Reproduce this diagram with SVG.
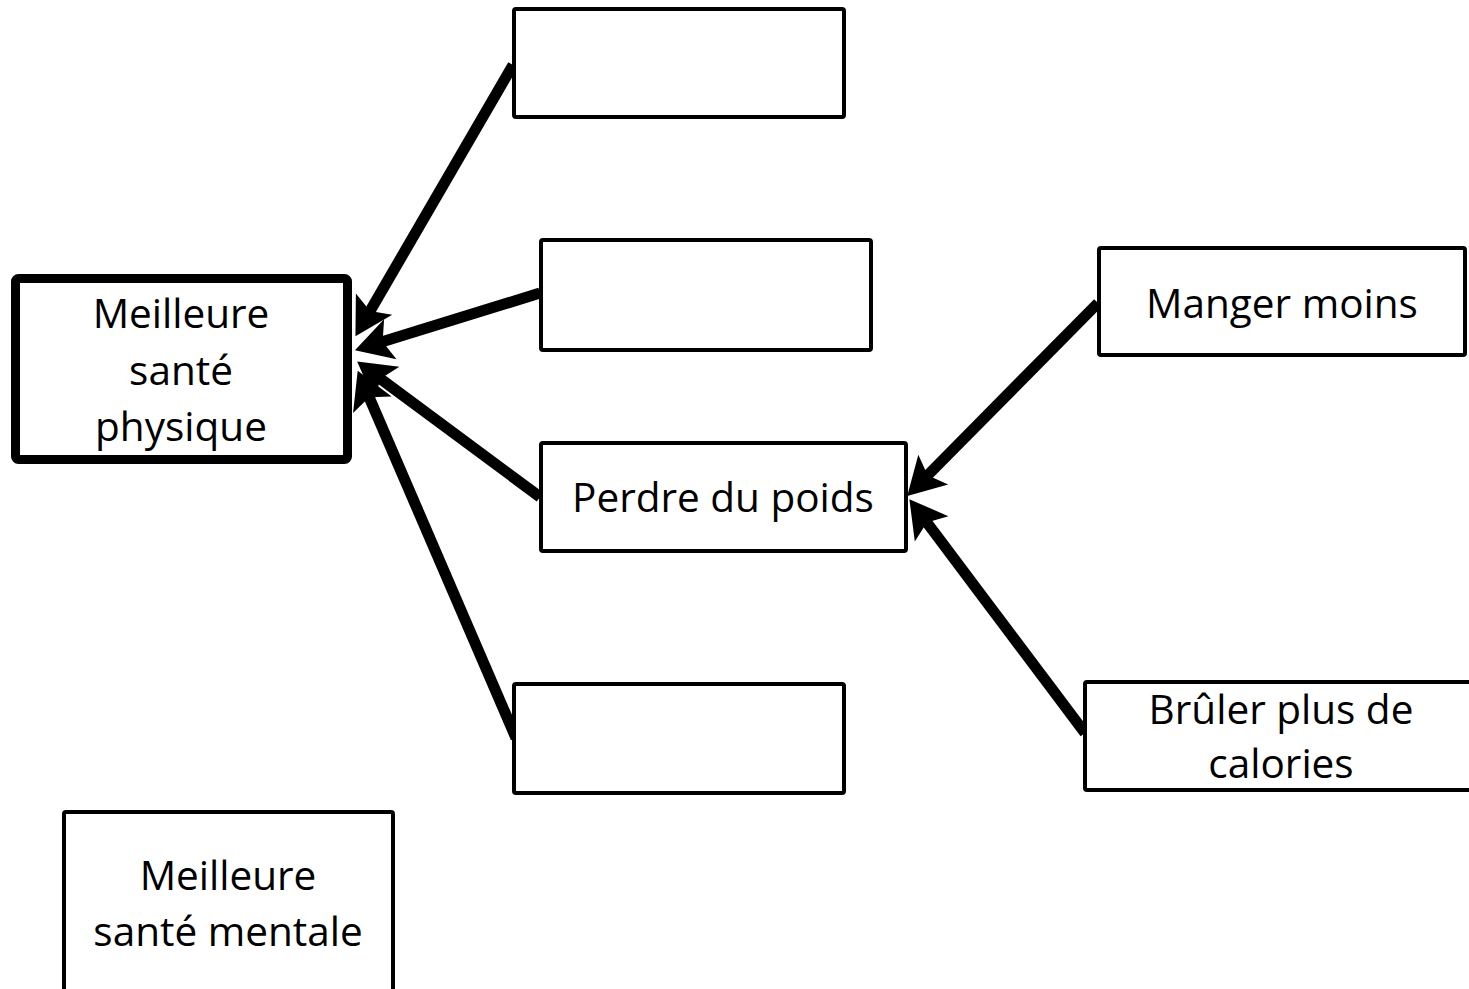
<svg xmlns="http://www.w3.org/2000/svg" width="1469" height="989" viewBox="0 0 1469 989">
<style>
.box{fill:#fff;stroke:#000;stroke-width:4;stroke-linejoin:round}
.main{stroke-width:9}
.lbl{font-family:"Open Sans","Liberation Sans",sans-serif;font-size:40.5px;fill:#000;text-anchor:middle}
.con{stroke:#000;stroke-width:11;fill:none;marker-end:url(#ah)}
</style>
<defs>
<marker id="ah" markerUnits="userSpaceOnUse" orient="auto" markerWidth="44" markerHeight="48" viewBox="0 -24 44 48" refX="16" refY="0" overflow="visible">
<path d="M0,-21 L37,0 L0,21 L8,0 Z" fill="#000"/>
</marker>
</defs>
<rect width="1469" height="989" fill="#fff"/>
<g id="connectors">
<line class="con" x1="513" y1="65" x2="366" y2="318"/>
<line class="con" x1="540" y1="293" x2="375" y2="344"/>
<line class="con" x1="540" y1="497" x2="374" y2="374"/>
<line class="con" x1="516" y1="738" x2="366" y2="390"/>
<line class="con" x1="1098" y1="303" x2="922" y2="481"/>
<line class="con" x1="1085" y1="733" x2="922" y2="516"/>
</g>
<g id="physique">
<rect class="box main" x="15.5" y="278.5" width="332" height="181" rx="3"/>
<text class="lbl" x="181" y="328">Meilleure</text>
<text class="lbl" x="181" y="385">santé</text>
<text class="lbl" x="181" y="441">physique</text>
</g>
<g id="empty1"><rect class="box" x="514" y="9" width="330" height="108" rx="2"/></g>
<g id="empty2"><rect class="box" x="541" y="240" width="330" height="110" rx="2"/></g>
<g id="perdre">
<rect class="box" x="541" y="443" width="365" height="108" rx="2"/>
<text class="lbl" x="723" y="512">Perdre du poids</text>
</g>
<g id="empty3"><rect class="box" x="514" y="684" width="330" height="109" rx="2"/></g>
<g id="manger">
<rect class="box" x="1099" y="248" width="366" height="107" rx="2"/>
<text class="lbl" x="1282" y="318">Manger moins</text>
</g>
<g id="bruler">
<rect class="box" x="1085" y="682" width="390" height="108" rx="2"/>
<text class="lbl" x="1281" y="724">Brûler plus de</text>
<text class="lbl" x="1281" y="778">calories</text>
</g>
<g id="mentale">
<rect class="box" x="64" y="812" width="329" height="200" rx="2"/>
<text class="lbl" x="228" y="890">Meilleure</text>
<text class="lbl" x="228" y="946">santé mentale</text>
</g>
</svg>
